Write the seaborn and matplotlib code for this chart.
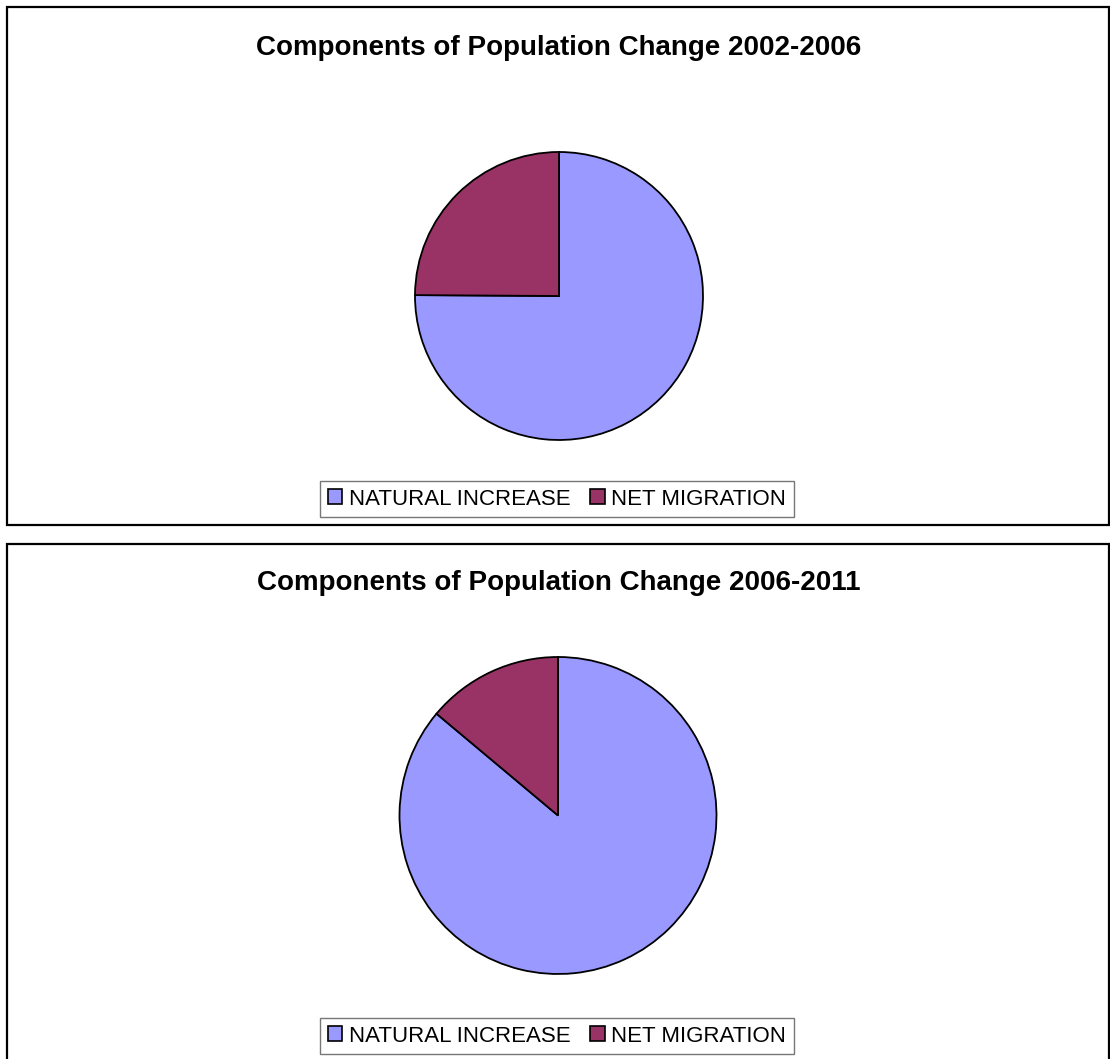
import matplotlib
matplotlib.use("Agg")
import matplotlib.pyplot as plt
from matplotlib.patches import Rectangle, Patch
import seaborn as sns

sns.set_theme(style="white")
plt.rcParams['font.family'] = ['Liberation Sans', 'DejaVu Sans']
plt.rcParams['text.color'] = 'black'
plt.rcParams['legend.labelcolor'] = 'black'

# Shares of population change (%)
components = ["NATURAL INCREASE", "NET MIGRATION"]
period_titles = ["Components of Population Change 2002-2006",
                 "Components of Population Change 2006-2011"]
shares_2002_2006 = [75.1, 24.9]
shares_2006_2011 = [86.1, 13.9]
period_shares = [shares_2002_2006, shares_2006_2011]

colors = sns.color_palette(["#9999FF", "#993366"])

W, H = 1110, 1059
fig = plt.figure(figsize=(W / 100, H / 100), dpi=100)
fig.patch.set_facecolor("white")

# panel layout in pixels: (box top, box bottom, pie centre x, pie centre y, radius, title y, legend y)
panels = [
    dict(top=7, bottom=525, cx=559, cy=296, r=144, ty=48, ly=499),
    dict(top=544, bottom=1062, cx=558, cy=815.5, r=158.5, ty=583, ly=1036),
]

for panel, title, shares in zip(panels, period_titles, period_shares):
    # chart border
    fig.add_artist(Rectangle((7 / W, 1 - panel["bottom"] / H),
                             (1109 - 7) / W, (panel["bottom"] - panel["top"]) / H,
                             transform=fig.transFigure, fill=False,
                             edgecolor="black", linewidth=1.6))
    r = panel["r"]
    ax = fig.add_axes([(panel["cx"] - r) / W, 1 - (panel["cy"] + r) / H,
                       2 * r / W, 2 * r / H])
    ax.pie(shares, colors=colors, startangle=90, counterclock=False, radius=1,
           wedgeprops=dict(edgecolor="black", linewidth=1.3))
    ax.set_xlim(-1.0, 1.0)
    ax.set_ylim(-1.0, 1.0)
    ax.set_axis_off()

    fig.text(559 / W, 1 - panel["ty"] / H, title, ha="center", va="center",
             fontsize=20, fontweight="bold", color="black")

    handles = [Patch(facecolor=c, edgecolor="black", linewidth=1.2) for c in colors]
    leg = fig.legend(handles, components, loc="center",
                     bbox_to_anchor=(557 / W, 1 - panel["ly"] / H),
                     ncol=2, frameon=True, fancybox=False, shadow=False,
                     fontsize=16, handlelength=0.65, handleheight=0.65,
                     handletextpad=0.3, columnspacing=0.9, borderpad=0.35,
                     borderaxespad=0)
    leg.get_frame().set_edgecolor("#555555")
    leg.get_frame().set_linewidth(1.0)

fig.savefig("out.png", dpi=100, facecolor="white")
